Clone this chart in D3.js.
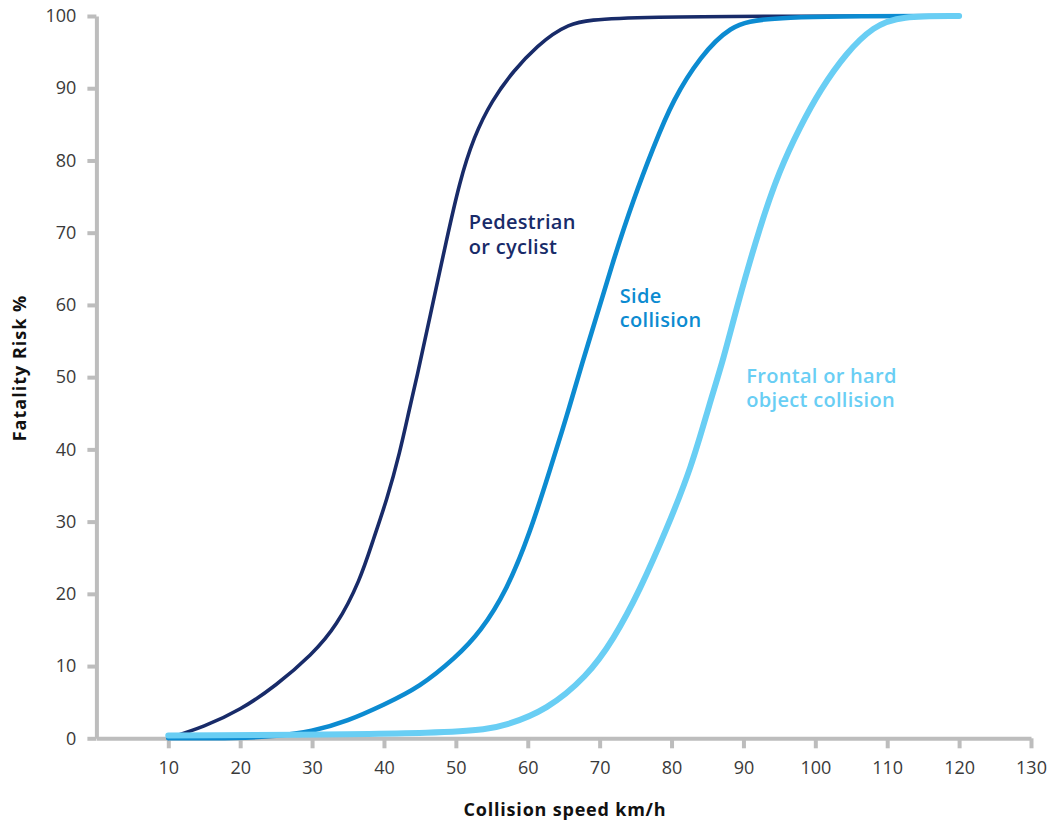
<!DOCTYPE html>
<html>
<head>
<meta charset="utf-8">
<script src="https://cdn.jsdelivr.net/npm/d3@7/dist/d3.min.js"></script>
<style>
  html, body { margin: 0; padding: 0; background: #ffffff; }
  svg { display: block; font-family: "Open Sans", "Noto Sans", sans-serif; }
</style>
</head>
<body>
<svg id="chart" width="1049" height="825"></svg>
<script>
// ---- data ----
const xTicks = [10, 20, 30, 40, 50, 60, 70, 80, 90, 100, 110, 120, 130];
const yTicks = [0, 10, 20, 30, 40, 50, 60, 70, 80, 90, 100];

const pedestrianPoints = [
  [10, 0], [15, 1.6], [20, 3.9], [25, 7.3], [30, 11.6], [33.4, 15.5], [36.7, 21.9],
  [38.5, 27.5], [40.4, 33], [42.2, 39.5], [43.6, 45.9], [44.5, 49.6], [46.4, 58.4],
  [48.7, 69], [50.5, 77], [52.5, 83.3], [55, 88.3], [58, 92.4], [61.2, 95.8], [65.4, 99],
  [71, 100], [120, 100]
];
const sidePoints = [
  [10, 0], [20, 0], [25, 0.3], [29.9, 0.9], [35, 2.4], [39.9, 4.6], [45, 7.1],
  [50, 11.2], [53.4, 14.7], [57.1, 20.5], [60.3, 28.4], [63.1, 37.2], [65.4, 44.5],
  [67.7, 52.4], [69.3, 57.5], [71.9, 66.2], [74.7, 74.6], [77.5, 81.9], [80.2, 88.4],
  [84, 94.4], [88.1, 98.6], [92.8, 100], [120, 100]
];
const frontalPoints = [
  [10, 0.4], [52, 0.6], [57.1, 1.8], [62.6, 3.9], [68.2, 8.5], [71.9, 13.6],
  [75.6, 20.5], [79.3, 28.9], [82.8, 37.6], [85.3, 46.4], [87.2, 52.4], [89.1, 59.8],
  [92.3, 70.9], [95, 78.6], [97.9, 84.7], [100.7, 89.8], [104.3, 94.9], [108.1, 98.6],
  [111.8, 100], [120, 100]
];

const labelLines = [["Pedestrian", "or cyclist"], ["Side", "collision"], ["Frontal or hard", "object collision"]];
const labelAnchors = [[51.8, 70.5], [72.8, 60.3], [90.4, 49.2]]; // [speed, risk] at first-line baseline start

// ---- styles ----
const colors = ["#182b69", "#0c8bd1", "#69cef4"];
const widths = [3.6, 4.6, 6];

const svg = d3.select("#chart");
const x = d3.scaleLinear().domain([0, 130]).range([96.4, 1031]);
const y = d3.scaleLinear().domain([0, 100]).range([738.3, 16]);

const axisColor = "#bdbdbd";
const tickColor = "#3a3a3a";

const gy = svg.append("g").attr("transform", `translate(${x(0)},0)`)
  .call(d3.axisLeft(y).tickValues(yTicks).tickSize(9).tickSizeOuter(0).tickPadding(11));
const gx = svg.append("g").attr("transform", `translate(0,${y(0)})`)
  .call(d3.axisBottom(x).tickValues(xTicks).tickSize(10).tickSizeOuter(0).tickPadding(13));

[gx, gy].forEach(g => {
  g.select(".domain").attr("stroke", axisColor).attr("stroke-width", 4);
  g.selectAll(".tick line").attr("stroke", axisColor).attr("stroke-width", 4);
  g.selectAll(".tick text").attr("fill", tickColor)
    .style("font-size", "18px").style("font-family", "'Open Sans', sans-serif");
});

// curves
const line = d3.line().x(d => x(d[0])).y(d => y(d[1])).curve(d3.curveBasis);
[pedestrianPoints, sidePoints, frontalPoints].forEach((pts, i) => {
  svg.append("path").datum(pts)
    .attr("d", line)
    .attr("fill", "none")
    .attr("stroke", colors[i])
    .attr("stroke-width", widths[i])
    .attr("stroke-linecap", "round")
    .attr("stroke-linejoin", "round");
});

// series labels
labelLines.forEach((lines, i) => {
  const t = svg.append("text")
    .attr("x", x(labelAnchors[i][0]))
    .attr("y", y(labelAnchors[i][1]))
    .attr("fill", colors[i])
    .style("font-size", "20px")
    .style("font-weight", 600)
    .style("letter-spacing", "0.3px");
  lines.forEach((s, j) => {
    t.append("tspan").attr("x", x(labelAnchors[i][0])).attr("dy", j === 0 ? 0 : 24.5).text(s);
  });
});

// axis titles
svg.append("text")
  .attr("x", 565).attr("y", 816)
  .attr("text-anchor", "middle")
  .attr("fill", "#111")
  .style("font-size", "18px").style("font-weight", 700)
  .style("letter-spacing", "0.8px")
  .text("Collision speed km/h");

svg.append("text")
  .attr("transform", "translate(26,368) rotate(-90)")
  .attr("text-anchor", "middle")
  .attr("fill", "#111")
  .style("font-size", "18px").style("font-weight", 700)
  .style("letter-spacing", "1px")
  .text("Fatality Risk %");
</script>
</body>
</html>
